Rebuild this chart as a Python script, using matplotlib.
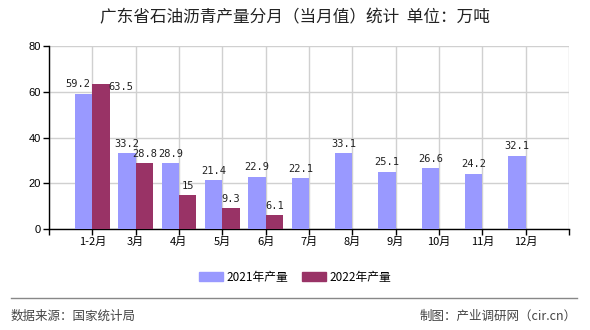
import matplotlib
matplotlib.use("Agg")
import matplotlib.pyplot as plt
from matplotlib.lines import Line2D
import numpy as np

plt.rcParams["font.family"] = ["Noto Sans CJK SC", "DejaVu Sans"]

months = ["1-2月", "3月", "4月", "5月", "6月", "7月", "8月", "9月", "10月", "11月", "12月"]
prod_2021 = [59.2, 33.2, 28.9, 21.4, 22.9, 22.1, 33.1, 25.1, 26.6, 24.2, 32.1]
prod_2022 = [63.5, 28.8, 15, 9.3, 6.1]
labels_2021 = ["59.2", "33.2", "28.9", "21.4", "22.9", "22.1", "33.1", "25.1", "26.6", "24.2", "32.1"]
labels_2022 = ["63.5", "28.8", "15", "9.3", "6.1"]

BLUE = "#9999ff"
RED = "#993366"

fig = plt.figure(figsize=(5.9, 3.3), dpi=100)
ax = fig.add_axes([49 / 590, 1 - 229 / 330, 520 / 590, 183 / 330])

x = np.arange(len(months))
w = 0.4
ax.bar(x - w / 2, prod_2021, width=w, color=BLUE, zorder=3)
ax.bar(x[:len(prod_2022)] + w / 2, prod_2022, width=w, color=RED, zorder=3)

lab_font = dict(family=["DejaVu Sans Mono"], fontsize=7.5, color="#222222")
for i, (v, s) in enumerate(zip(prod_2021, labels_2021)):
    dx = -4 if i == 0 else 0
    ax.annotate(s, (x[i] - w / 2, v), xytext=(dx, 3), textcoords="offset points",
                ha="center", va="bottom", **lab_font)
for i, (v, s) in enumerate(zip(prod_2022, labels_2022)):
    dx, dy = (14, -6) if i == 0 else (0, 3)
    ax.annotate(s, (x[i] + w / 2, v), xytext=(dx, dy), textcoords="offset points",
                ha="center", va="bottom", **lab_font)

ax.set_xlim(-1, 11)
ax.set_ylim(0, 80)
ax.set_xticks(np.arange(-1, 12))
ax.set_xticklabels([""] + months + [""], fontsize=8)
ax.set_yticks([0, 20, 40, 60, 80])
ax.set_yticklabels(["0", "20", "40", "60", "80"], fontsize=8, family=["Liberation Sans"])
ax.tick_params(axis="both", direction="out", length=4, width=1, color="black", pad=2)
ax.grid(True, color="#d0d0d0", linewidth=1, zorder=0)
for side in ["top", "right"]:
    ax.spines[side].set_visible(False)
for side in ["left", "bottom"]:
    ax.spines[side].set_color("black")
    ax.spines[side].set_linewidth(1)

fig.text(0.5, 1 - 18 / 330, "广东省石油沥青产量分月（当月值）统计  单位：万吨",
         ha="center", va="center", fontsize=12, color="#222222")

handles = [plt.Rectangle((0, 0), 1, 1, color=BLUE), plt.Rectangle((0, 0), 1, 1, color=RED)]
fig.legend(handles, ["2021年产量", "2022年产量"], loc="center", ncol=2,
           bbox_to_anchor=(0.5, 1 - 277 / 330), frameon=False, fontsize=8.5,
           handlelength=2.0, handleheight=0.7, columnspacing=1.2, handletextpad=0.3)

fig.add_artist(Line2D([11 / 590, 577 / 590], [1 - 298 / 330, 1 - 298 / 330],
                      color="#888888", linewidth=1))
fig.text(11 / 590, 1 - 316 / 330, "数据来源：国家统计局", ha="left", va="center",
         fontsize=9, color="#444444")
fig.text(577 / 590, 1 - 316 / 330, "制图：产业调研网（cir.cn）", ha="right", va="center",
         fontsize=9, color="#444444")

fig.savefig("out.png", dpi=100)
